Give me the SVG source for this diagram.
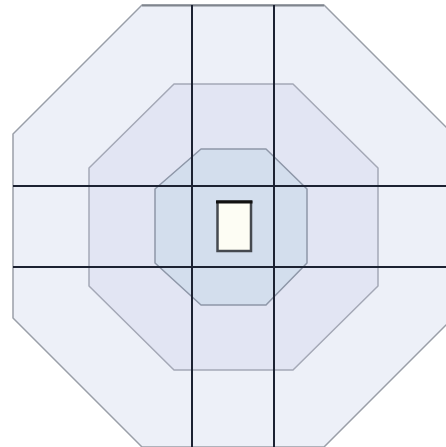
<svg xmlns="http://www.w3.org/2000/svg" width="446" height="447" viewBox="0 0 446 447">
<style>
.oct{stroke-width:1.5;stroke-linejoin:round}
.ln{stroke:#1c2232;stroke-width:2;fill:none}
</style>
<rect width="446" height="447" fill="#ffffff"/>
<g id="outer-octagon">
<polygon class="oct" points="142,5 324,5 453,134 453,318 324,447 142,447 13,318 13,134" fill="#edf0f8" stroke="#9a9fa8"/>
<line x1="142" y1="5.5" x2="324" y2="5.5" stroke="#80858e" stroke-width="2"/>
</g>
<g id="middle-octagon">
<polygon class="oct" points="174,84 293,84 378,168 378,286 293,370 174,370 89,286 89,168" fill="#e2e5f3" stroke="#a4a8b6"/>
</g>
<g id="inner-octagon">
<polygon class="oct" points="201,149 266,149 307,189 307,263 266,305 201,305 155,263 155,189" fill="#d3deed" stroke="#8e97a8"/>
</g>
<g id="connectors">
<line class="ln" x1="192" y1="5" x2="192" y2="447"/>
<line class="ln" x1="274" y1="5" x2="274" y2="447"/>
<line class="ln" x1="13" y1="186" x2="446" y2="186"/>
<line class="ln" x1="13" y1="267" x2="446" y2="267"/>
</g>
<g id="center-box">
<rect x="217.5" y="201.5" width="33.5" height="49.5" fill="#fdfdf4" stroke="#45494f" stroke-width="2.5"/>
<line x1="216" y1="202" x2="252.5" y2="202" stroke="#111" stroke-width="3"/>
</g>
</svg>
